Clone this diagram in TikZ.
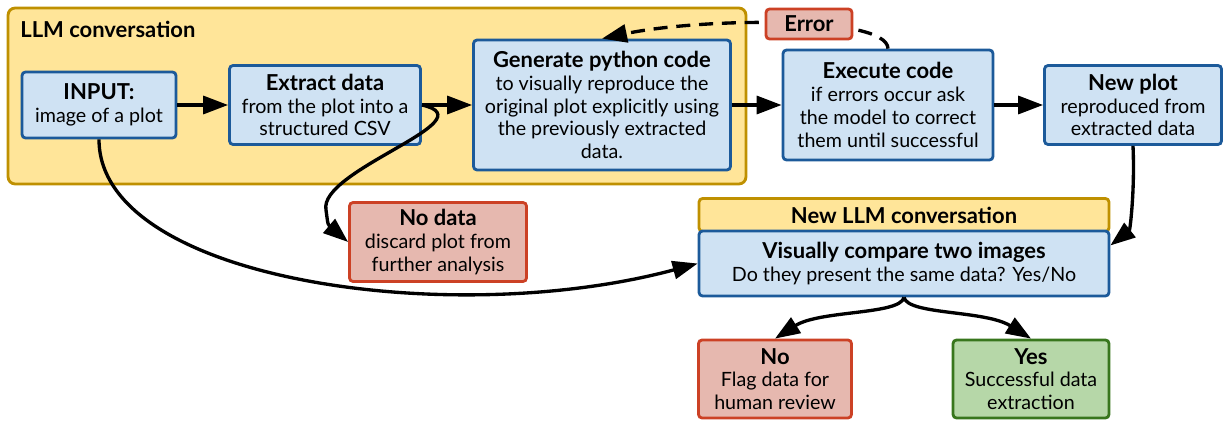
\documentclass[tikz,border=0pt]{standalone}
\usepackage{fontspec}
\setmainfont{Lato}
\usetikzlibrary{
    arrows.meta,
    positioning,
}
\definecolor{blueFill}{HTML}{CFE2F3}
\definecolor{blueLine}{HTML}{1C5A9A}
\definecolor{redFill}{HTML}{E6B8AF}
\definecolor{redLine}{HTML}{CC4125}
\definecolor{greenFill}{HTML}{B6D7A8}
\definecolor{greenLine}{HTML}{38761D}
\definecolor{yellowFill}{HTML}{FFE599}
\definecolor{yellowLine}{HTML}{BF9000}
\newcommand{\hd}[1]{{\fontsize{12.5}{13}\selectfont\bfseries #1}}
\tikzstyle{block} = [rectangle, draw=blueLine, fill=blueFill, line width=1.6pt,
    align=center, rounded corners=2pt, inner sep=1pt,
    font=\fontsize{11.2}{13}\selectfont]
\tikzstyle{stopbox} = [block, draw=redLine, fill=redFill]
\tikzstyle{goodbox} = [block, draw=greenLine, fill=greenFill]
\tikzstyle{frame} = [rectangle, draw=yellowLine, fill=yellowFill, line width=1.6pt,
    rounded corners=4pt]
\tikzstyle{line} = [draw, line width=1.9pt, -{Triangle[length=5mm,width=3.6mm]}]
\begin{document}
\begin{tikzpicture}[x=0.02cm, y=0.02cm, auto]
        \useasboundingbox (0,0) rectangle (1224,420);
        % Conversation frame
        \node [frame, minimum width=14.76cm, minimum height=3.52cm] (llm) at (377,324) {};
        \node [anchor=west, inner sep=0pt] (llm_t) at (20,391) {\hd{LLM conversation}};
        % Place nodes
        \node [block, minimum width=3.08cm, minimum height=1.32cm] (input) at (99,315)
            {\hd{INPUT:}\\image of a plot};
        \node [block, minimum width=3.82cm, minimum height=1.58cm] (extract) at (325,315)
            {\hd{Extract data}\\from the plot into a\\structured CSV};
        \node [block, minimum width=5.14cm, minimum height=2.6cm] (gen) at (602,315)
            {\hd{Generate python code}\\to visually reproduce the\\original plot explicitly using\\the previously extracted\\data.};
        \node [block, minimum width=4.2cm, minimum height=2.2cm] (exec) at (888,315)
            {\hd{Execute code}\\if errors occur ask\\the model to correct\\them until successful};
        \node [block, minimum width=3.54cm, minimum height=1.58cm] (newplot) at (1133,315)
            {\hd{New plot}\\reproduced from\\extracted data};
        \node [stopbox, minimum width=3.54cm, minimum height=1.58cm] (nodata) at (438,178)
            {\hd{No data}\\discard plot from\\further analysis};
        \node [frame, rounded corners=2pt, minimum width=8.2cm, minimum height=0.66cm,
            inner sep=1pt] (newllm) at (904,205) {\hd{New LLM conversation}};
        \node [block, minimum width=8.2cm, minimum height=1.3cm] (compare) at (904,156.5)
            {\hd{Visually compare two images}\\Do they present the same data? Yes/No};
        \node [stopbox, minimum width=3.06cm, minimum height=1.56cm] (no) at (775,41)
            {\hd{No}\\Flag data for\\human review};
        \node [goodbox, minimum width=3.12cm, minimum height=1.56cm] (yes) at (1031,41)
            {\hd{Yes}\\Successful data\\extraction};
        % Draw edges
        \path [line] (input) -- (extract);
        \path [line] (extract) -- (gen);
        \path [line] (gen) -- (exec);
        \path [line] (exec) -- (newplot);
        \path [line,dash pattern=on 8pt off 5pt] (exec.north) .. controls (887,405) and (700,402) .. (gen.north);
        \node [stopbox, minimum width=1.72cm, minimum height=0.6cm] (err) at (809,396) {\hd{Error}};
        \path [line] (extract.east) .. controls (490,300) and (318,250) .. (326,210)
            .. controls (328,195) .. (nodata.west);
        \path [line] (input.south) .. controls (99,140) and (450,90) .. (compare.west);
        \path [line] (newplot.south) .. controls (1135,230) and (1130,190) .. (compare.5);
        \path [line] (compare.south) .. controls (900,105) and (820,110) .. (no.north);
        \path [line] (compare.south) .. controls (908,105) and (985,110) .. (yes.north);
    \end{tikzpicture}
\end{document}
